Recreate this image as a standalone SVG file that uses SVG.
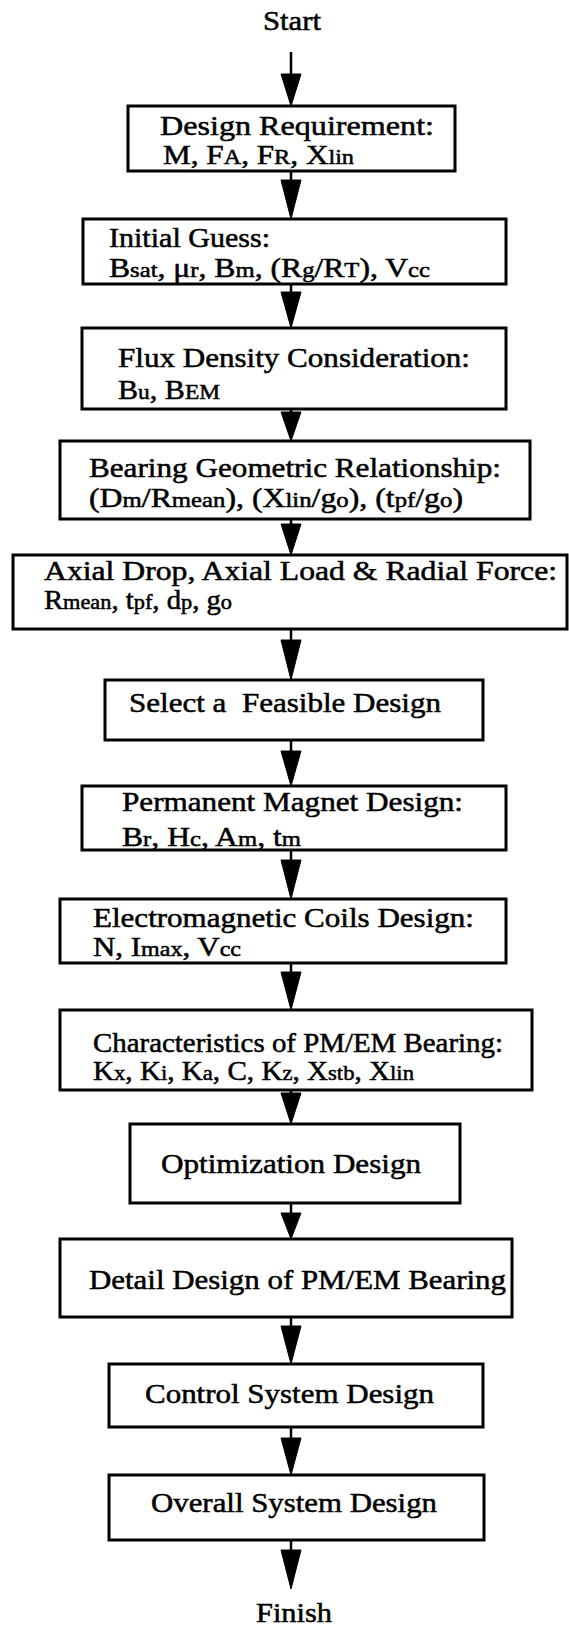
<svg xmlns="http://www.w3.org/2000/svg" width="569" height="1632" viewBox="0 0 569 1632">
<style>
.box{fill:#fff;stroke:#000;stroke-width:3}
.t{font-family:"Liberation Serif","Times New Roman",serif;font-size:27px;fill:#000;stroke:#000;stroke-width:0.5}
.s{font-size:21px}
.sh{stroke:#000;stroke-width:2.5;fill:none}
.hd{fill:#000;stroke:#000;stroke-width:1}
</style>
<rect width="569" height="1632" fill="#fff"/>
<g id="connectors">
<line class="sh" x1="291" y1="52" x2="291" y2="76"/><polygon class="hd" points="281,74 301,74 291,106"/>
<line class="sh" x1="291" y1="171" x2="291" y2="182"/><polygon class="hd" points="281,180 301,180 291,219"/>
<line class="sh" x1="291" y1="284" x2="291" y2="294"/><polygon class="hd" points="281,292 301,292 291,328"/>
<line class="sh" x1="291" y1="409" x2="291" y2="414"/><polygon class="hd" points="281,412 301,412 291,441"/>
<line class="sh" x1="291" y1="519" x2="291" y2="526"/><polygon class="hd" points="281,524 301,524 291,555"/>
<line class="sh" x1="291" y1="629" x2="291" y2="642"/><polygon class="hd" points="281,640 301,640 291,680"/>
<line class="sh" x1="291" y1="740" x2="291" y2="753"/><polygon class="hd" points="281,751 301,751 291,786"/>
<line class="sh" x1="291" y1="850" x2="291" y2="862"/><polygon class="hd" points="281,860 301,860 291,899"/>
<line class="sh" x1="291" y1="963" x2="291" y2="974"/><polygon class="hd" points="281,972 301,972 291,1010"/>
<line class="sh" x1="291" y1="1090" x2="291" y2="1095"/><polygon class="hd" points="281,1093 301,1093 291,1124"/>
<line class="sh" x1="291" y1="1203" x2="291" y2="1215"/><polygon class="hd" points="281,1213 301,1213 291,1239"/>
<line class="sh" x1="291" y1="1317" x2="291" y2="1328"/><polygon class="hd" points="281,1326 301,1326 291,1364"/>
<line class="sh" x1="291" y1="1427" x2="291" y2="1440"/><polygon class="hd" points="281,1438 301,1438 291,1475"/>
<line class="sh" x1="291" y1="1540" x2="291" y2="1552"/><polygon class="hd" points="281,1550 301,1550 291,1589"/>
</g>
<g id="start"><text class="t" x="263" y="30" textLength="58" lengthAdjust="spacingAndGlyphs">Start</text></g>
<g id="n1"><rect class="box" x="128" y="106" width="327" height="65"/>
<text class="t" x="160" y="135" textLength="274" lengthAdjust="spacingAndGlyphs">Design Requirement:</text>
<text class="t" x="163" y="164" textLength="191" lengthAdjust="spacingAndGlyphs">M, F<tspan class="s">A</tspan>, F<tspan class="s">R</tspan>, X<tspan class="s">lin</tspan></text></g>
<g id="n2"><rect class="box" x="83" y="219" width="423" height="65"/>
<text class="t" x="109" y="247" textLength="161" lengthAdjust="spacingAndGlyphs">Initial Guess:</text>
<text class="t" x="109" y="277" textLength="321" lengthAdjust="spacingAndGlyphs">B<tspan class="s">sat</tspan>, μ<tspan class="s">r</tspan>, B<tspan class="s">m</tspan>, (R<tspan class="s">g</tspan>/R<tspan class="s">T</tspan>), V<tspan class="s">cc</tspan></text></g>
<g id="n3"><rect class="box" x="82" y="328" width="424" height="81"/>
<text class="t" x="118" y="367" textLength="352" lengthAdjust="spacingAndGlyphs">Flux Density Consideration:</text>
<text class="t" x="118" y="399" textLength="102" lengthAdjust="spacingAndGlyphs">B<tspan class="s">u</tspan>, B<tspan class="s">EM</tspan></text></g>
<g id="n4"><rect class="box" x="60" y="441" width="470" height="78"/>
<text class="t" x="89" y="477" textLength="412" lengthAdjust="spacingAndGlyphs">Bearing Geometric Relationship:</text>
<text class="t" x="89" y="507" textLength="374" lengthAdjust="spacingAndGlyphs">(D<tspan class="s">m</tspan>/R<tspan class="s">mean</tspan>), (X<tspan class="s">lin</tspan>/g<tspan class="s">o</tspan>), (t<tspan class="s">pf</tspan>/g<tspan class="s">o</tspan>)</text></g>
<g id="n5"><rect class="box" x="13" y="555" width="554" height="74"/>
<text class="t" x="44" y="580" textLength="513" lengthAdjust="spacingAndGlyphs">Axial Drop, Axial Load &amp; Radial Force:</text>
<text class="t" x="44" y="609" textLength="188" lengthAdjust="spacingAndGlyphs">R<tspan class="s">mean</tspan>, t<tspan class="s">pf</tspan>, d<tspan class="s">p</tspan>, g<tspan class="s">o</tspan></text></g>
<g id="n6"><rect class="box" x="105" y="680" width="378" height="60"/>
<text class="t" x="129" y="712" textLength="312" lengthAdjust="spacingAndGlyphs" xml:space="preserve">Select a  Feasible Design</text></g>
<g id="n7"><rect class="box" x="82" y="786" width="424" height="64"/>
<text class="t" x="122" y="811" textLength="341" lengthAdjust="spacingAndGlyphs">Permanent Magnet Design:</text>
<text class="t" x="122" y="846" textLength="179" lengthAdjust="spacingAndGlyphs">B<tspan class="s">r</tspan>, H<tspan class="s">c</tspan>, A<tspan class="s">m</tspan>, t<tspan class="s">m</tspan></text></g>
<g id="n8"><rect class="box" x="60" y="899" width="446" height="64"/>
<text class="t" x="93" y="927" textLength="381" lengthAdjust="spacingAndGlyphs">Electromagnetic Coils Design:</text>
<text class="t" x="93" y="956" textLength="148" lengthAdjust="spacingAndGlyphs">N, I<tspan class="s">max</tspan>, V<tspan class="s">cc</tspan></text></g>
<g id="n9"><rect class="box" x="60" y="1010" width="472" height="80"/>
<text class="t" x="93" y="1052" textLength="410" lengthAdjust="spacingAndGlyphs">Characteristics of PM/EM Bearing:</text>
<text class="t" x="93" y="1080" textLength="321" lengthAdjust="spacingAndGlyphs">K<tspan class="s">x</tspan>, K<tspan class="s">i</tspan>, K<tspan class="s">a</tspan>, C, K<tspan class="s">z</tspan>, X<tspan class="s">stb</tspan>, X<tspan class="s">lin</tspan></text></g>
<g id="n10"><rect class="box" x="130" y="1124" width="330" height="79"/>
<text class="t" x="161" y="1173" textLength="260" lengthAdjust="spacingAndGlyphs">Optimization Design</text></g>
<g id="n11"><rect class="box" x="60" y="1239" width="452" height="78"/>
<text class="t" x="89" y="1289" textLength="417" lengthAdjust="spacingAndGlyphs">Detail Design of PM/EM Bearing</text></g>
<g id="n12"><rect class="box" x="109" y="1364" width="374" height="63"/>
<text class="t" x="145" y="1403" textLength="289" lengthAdjust="spacingAndGlyphs">Control System Design</text></g>
<g id="n13"><rect class="box" x="109" y="1475" width="375" height="65"/>
<text class="t" x="151" y="1512" textLength="286" lengthAdjust="spacingAndGlyphs">Overall System Design</text></g>
<g id="finish"><text class="t" x="256" y="1622" textLength="76" lengthAdjust="spacingAndGlyphs">Finish</text></g>
</svg>
